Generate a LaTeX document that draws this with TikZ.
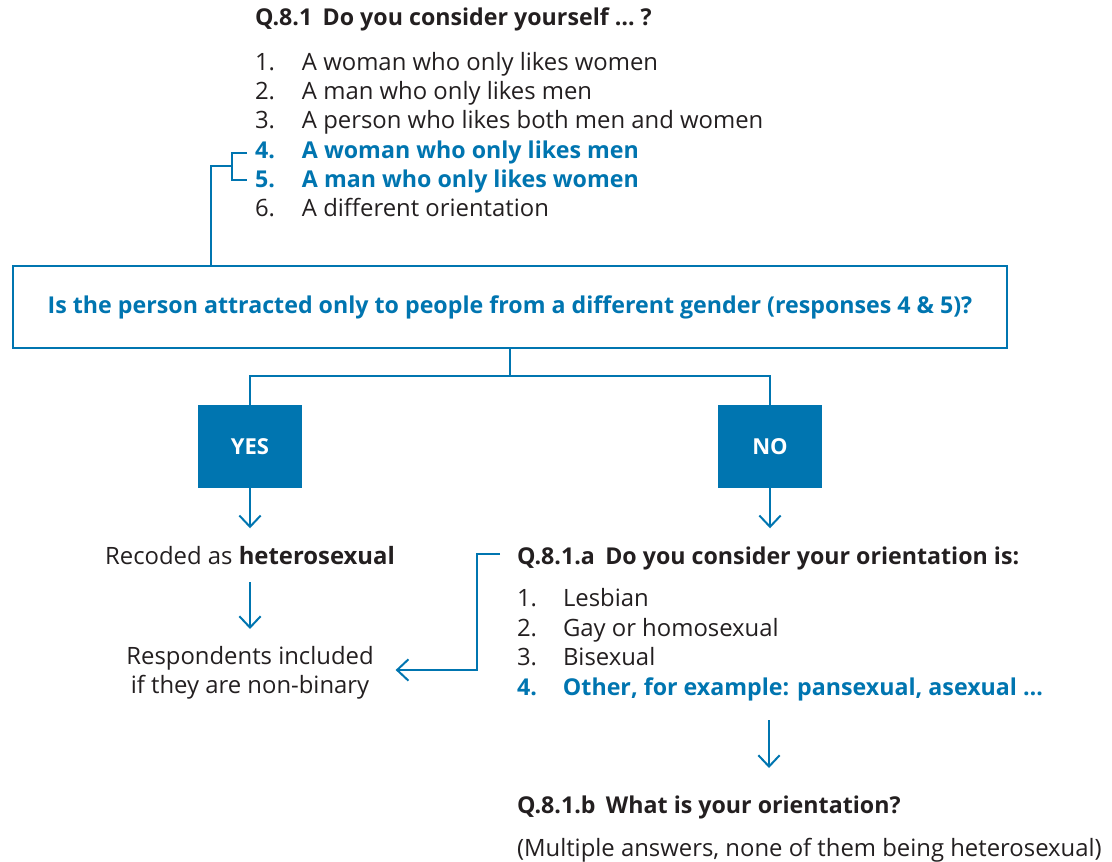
\documentclass[tikz,border=0pt]{standalone}
\usepackage{fontspec}
\setmainfont{Open Sans}
\usetikzlibrary{arrows.meta,calc}
\definecolor{eblue}{RGB}{0,117,176}
\definecolor{etext}{RGB}{35,31,32}
\begin{document}
\begin{tikzpicture}[x=0.75pt,y=-0.75pt,
  txt/.style={inner sep=0pt, outer sep=0pt, text=etext, font=\fontsize{17.9}{22}\selectfont, anchor=base west},
  btxt/.style={txt, font=\fontsize{17.4}{22}\selectfont\bfseries},
  hl/.style={txt, text=eblue, font=\fontsize{17.4}{22}\selectfont\bfseries},
  conn/.style={draw=eblue, line width=1.5pt},
  arr/.style={conn, -{Straight Barb[length=8.5pt,width=16pt]}},
  answer/.style={fill=eblue, text=white, minimum width=78pt, minimum height=62.25pt, inner sep=0pt,
     font=\fontsize{16.5}{22}\selectfont\bfseries}]
\useasboundingbox (0,0) rectangle (1112,862);
\newcommand{\numA}[1]{\makebox[35.25pt][l]{#1}}
\newcommand{\numB}[1]{\makebox[34.5pt][l]{#1}}

% Q.8.1
\node[btxt] (q1) at (255,26) {Q.8.1\hspace{0.45em}Do you consider yourself … ?};
\node[txt] (i1) at (255,71)  {\numA{1.}A woman who only likes women};
\node[txt] (i2) at (255,100) {\numA{2.}A man who only likes men};
\node[txt] (i3) at (255,129) {\numA{3.}A person who likes both men and women};
\node[hl]  (i4) at (255,159) {\numA{4.}A woman who only likes men};
\node[hl]  (i5) at (255,188) {\numA{5.}A man who only likes women};
\node[txt] (i6) at (255,217) {\numA{6.}A different orientation};

% decision box
\node[draw=eblue, line width=2pt, minimum width=745.5pt, minimum height=61.5pt, inner sep=0pt,
      text=eblue, font=\fontsize{17.4}{22}\selectfont\bfseries] (main) at (510,307)
      {Is the person attracted only to people from a different gender (responses 4 \& 5)?};

% bracket from items 4 and 5
\coordinate (b4) at ($(i4.base west)+(-8,-6)$);
\coordinate (b5) at ($(i5.base west)+(-8,-8)$);
\coordinate (bm) at (211,166);
\draw[conn] (b4) -- ++(-15,0) |- (b5);
\draw[conn] ($(b4)+(-15,13)$) -- (bm) -- (main.north -| bm);

% YES / NO
\node[answer] (yes) at (250,446.5) {YES};
\node[answer] (no)  at (770,446.5) {NO};
\coordinate (split) at (510,376);
\draw[conn] (main.south) -- (split);
\draw[conn] (yes.north) |- (split) -| (no.north);
\draw[arr] (yes.south) -- ++(0,40);
\draw[arr] (no.south) -- ++(0,40);

% left column
\node[txt, anchor=base] (rec) at (250,564) {Recoded as \textbf{heterosexual}};
\node[txt, anchor=center, align=center, font=\fontsize{17.9}{22.1}\selectfont] (resp) at (250,673)
      {Respondents included\\if they are non-binary};
\draw[arr] ($(rec.base)+(0,18)$) -- ($(rec.base)+(0,65)$);

% right column
\node[btxt] (qa) at (517,564) {Q.8.1.a\hspace{0.45em}Do you consider your orientation is:};
\node[txt] (a1) at (517,606) {\numB{1.}Lesbian};
\node[txt] (a2) at (517,636) {\numB{2.}Gay or homosexual};
\node[txt] (a3) at (517,665) {\numB{3.}Bisexual};
\node[hl]  (a4) at (517,695) {\numB{4.}Other, for example: pansexual, asexual …};
\coordinate (qaL) at ($(qa.base west)+(-17,-10)$);
\draw[arr] (qaL) -- ++(-23,0) |- ($(resp.east)+(22,-3)$);

\draw[arr] (769,720) -- (769,768);
\node[btxt] (qb) at (517,813) {Q.8.1.b\hspace{0.45em}What is your orientation?};
\node[txt] (qbn) at (517,856) {(Multiple answers, none of them being heterosexual)};
\end{tikzpicture}
\end{document}
